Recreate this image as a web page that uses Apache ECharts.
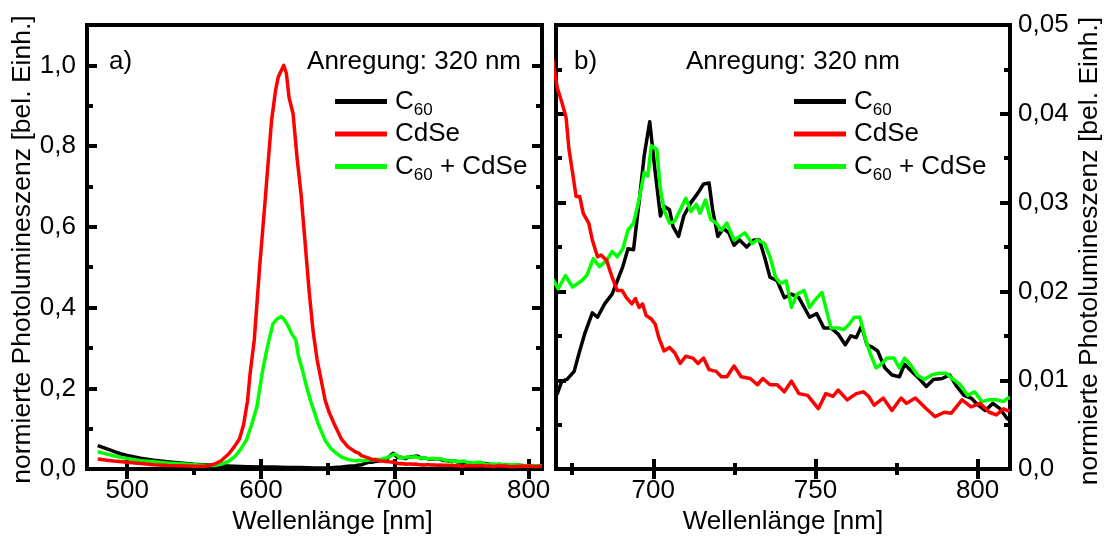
<!DOCTYPE html>
<html><head><meta charset="utf-8">
<script src="https://cdn.jsdelivr.net/npm/echarts@6/dist/echarts.min.js"></script>
<style>html,body{margin:0;padding:0;background:#fff}#c{width:1107px;height:540px}</style>
</head><body><div id="c"></div>
<script>
const FONT = '"Liberation Sans", Arial, sans-serif';

// ---- data (wavelength in nm, normalized PL) ----
const c60Nm = [478,485,490,495,500,510,520,530,540,550,560,570,580,590,600,610,620,630,640,650,655,660,665,
  670.4,671.8,673.4,675.6,677.3,679,681.2,682.8,685,687.3,688.9,690.6,692.2,693.9,695.6,697.2,698.9,700.6,702.2,703.3,705,706.1,707.8,709.4,711.6,713.8,715.5,717.2,718.3,719.9,721.6,723.3,724.9,726.6,728.8,731,732.7,734.3,736,738.2,740.4,742.6,744.9,748.2,750.4,752.6,754.8,757,759.2,760.9,762.6,764.2,765.9,767.6,769.2,771.4,773.6,775.9,777.5,779.7,782,784.2,786.4,789.1,791.4,793.6,795.8,798,800.2,802.4,804.7,806.9,809.1,810];
const c60Val = [0.058,0.050,0.044,0.038,0.034,0.027,0.022,0.018,0.015,0.012,0.010,0.008,0.007,0.006,0.005,0.005,0.004,0.004,0.003,0.003,0.004,0.005,0.007,
  0.0085,0.0099,0.0101,0.0110,0.0133,0.0154,0.0176,0.0171,0.0186,0.0197,0.0212,0.0228,0.0248,0.0247,0.0300,0.0353,0.0391,0.0334,0.0285,0.0296,0.0292,0.0273,0.0262,0.0285,0.0300,0.0311,0.0321,0.0322,0.0292,0.0262,0.0271,0.0266,0.0252,0.0258,0.0250,0.0258,0.0258,0.0239,0.0216,0.0212,0.0193,0.0197,0.0193,0.0171,0.0175,0.0159,0.0159,0.0152,0.0140,0.0150,0.0148,0.0161,0.0140,0.0137,0.0133,0.0114,0.0106,0.0104,0.0118,0.0110,0.0102,0.0093,0.0101,0.0102,0.0106,0.0093,0.0083,0.0080,0.0072,0.0066,0.0074,0.0068,0.0057,0.0055];

const cdseNm = [478,485,490,500,510,520,530,540,550,558,565,570,576,580,584,587,590,592,595,597,599,601,603,605,608,611,613,617,619,621,624,627,630,633,636,639,642,645,648,651,655,660,665,
  670.4,671.8,673.1,674,675.1,676.2,677.3,678.4,680.1,681.2,682.8,683.9,685.6,687.3,688.9,690.4,691.7,693.4,694.5,695.6,696.7,697.8,699.4,700.6,701.7,703.3,705,706.6,708.3,710,712.2,713.8,715.5,717.2,719.4,721,722.7,724.9,727.1,729.9,732.1,733.8,736,738.2,740.4,742.6,744.9,747.6,750.9,753.2,755.4,757,759.8,762.6,764.8,766.4,768.1,770.9,773.6,776.4,778.1,780.8,784.2,786.9,789.7,791.9,795.2,798,800.8,803.6,805.8,808,809.1,810];
const cdseVal = [0.025,0.022,0.020,0.017,0.014,0.011,0.009,0.008,0.007,0.007,0.012,0.020,0.038,0.055,0.075,0.110,0.170,0.240,0.320,0.410,0.500,0.580,0.660,0.745,0.866,0.940,0.972,1.000,0.980,0.920,0.880,0.770,0.680,0.560,0.440,0.340,0.270,0.220,0.170,0.140,0.110,0.075,0.055,
  0.0429,0.0413,0.0396,0.0360,0.0334,0.0307,0.0307,0.0288,0.0277,0.0258,0.0239,0.0241,0.0235,0.0216,0.0201,0.0201,0.0193,0.0186,0.0192,0.0182,0.0186,0.0173,0.0169,0.0163,0.0148,0.0133,0.0137,0.0131,0.0119,0.0127,0.0125,0.0119,0.0125,0.0112,0.0110,0.0104,0.0104,0.0116,0.0104,0.0102,0.0095,0.0102,0.0095,0.0095,0.0087,0.0099,0.0085,0.0083,0.0068,0.0085,0.0082,0.0089,0.0078,0.0085,0.0087,0.0082,0.0072,0.0080,0.0066,0.0080,0.0074,0.0080,0.0068,0.0059,0.0064,0.0063,0.0078,0.0070,0.0074,0.0064,0.0061,0.0068,0.0066,0.0066];

const mixNm = [478,485,490,495,500,510,520,530,540,550,560,565,570,576,581,585,589,593,597,601,604,606,609,612,615,617,619,621,623,626,628,631,634,637,640,643,648,652,656,660,665,
  670.7,672.9,675.1,677.9,679.5,681.5,683.4,685.6,687.3,688.9,690.6,692.2,693.9,695.6,697.2,698.3,699.4,701.1,702.2,703.3,705,706.6,708.3,710,711.6,713.3,714.4,716.1,717.7,719.4,721,722.7,724.9,726.6,728.2,730.5,732.1,734.3,736,737.7,739.3,741,742.6,744.3,746.5,748.2,749.8,752,754.8,757,758.7,760.4,762,763.7,765.3,767,768.7,770.3,772,774.2,775.9,777.5,779.2,781.4,783.6,785.8,788,790.3,792.5,794.7,796.9,799.1,801.3,803.6,805.8,808,809.3,810];
const mixVal = [0.043,0.037,0.033,0.029,0.026,0.021,0.018,0.015,0.013,0.011,0.009,0.009,0.012,0.020,0.033,0.050,0.071,0.110,0.155,0.240,0.290,0.320,0.360,0.372,0.378,0.372,0.362,0.350,0.335,0.320,0.280,0.245,0.205,0.170,0.140,0.110,0.071,0.052,0.040,0.030,0.024,
  0.0203,0.0218,0.0205,0.0212,0.0218,0.0237,0.0228,0.0235,0.0245,0.0239,0.0248,0.0269,0.0277,0.0303,0.0334,0.0330,0.0364,0.0360,0.0315,0.0292,0.0277,0.0279,0.0292,0.0305,0.0290,0.0298,0.0288,0.0303,0.0281,0.0277,0.0269,0.0277,0.0258,0.0262,0.0266,0.0254,0.0258,0.0254,0.0239,0.0216,0.0209,0.0212,0.0182,0.0197,0.0201,0.0182,0.0190,0.0199,0.0159,0.0159,0.0157,0.0163,0.0171,0.0171,0.0148,0.0129,0.0114,0.0118,0.0125,0.0125,0.0114,0.0125,0.0118,0.0106,0.0101,0.0106,0.0108,0.0108,0.0101,0.0095,0.0083,0.0087,0.0076,0.0078,0.0078,0.0076,0.0080,0.0080];

const seriesNames = ['C60', 'CdSe', 'C60 + CdSe'];
const annotation = 'Anregung: 320 nm';
const xTitle = 'Wellenlänge [nm]';
const yTitle = 'normierte Photolumineszenz [bel. Einh.]';

// ticks
const xMajorA = [500, 600, 700, 800], xMinorA = [550, 650, 750];
const yMajorA = [0, 0.2, 0.4, 0.6, 0.8, 1.0], yMinorA = [0.1, 0.3, 0.5, 0.7, 0.9];
const xMajorB = [700, 750, 800], xMinorB = [675, 725, 775];
const yMajorB = [0, 0.01, 0.02, 0.03, 0.04, 0.05], yMinorB = [0.005, 0.015, 0.025, 0.035, 0.045];
const rangeA = {xMin: 470, xMax: 810, yMin: 0, yMax: 1.1};
const rangeB = {xMin: 670, xMax: 810, yMin: 0, yMax: 0.05};

const pairs = (nm, v) => nm.map((x, i) => [x, v[i]]);
const colors = {'C60': '#000000', 'CdSe': '#ff0000', 'C60 + CdSe': '#00ff00'};

function axis(grid, pos, min, max, ticks, len, label) {
  const a = {
    type: 'value', gridIndex: grid, position: pos, min: min, max: max,
    axisLine: {show: false}, splitLine: {show: false},
    axisTick: {show: true, inside: true, length: len, customValues: ticks, lineStyle: {width: 4, color: '#000'}},
    axisLabel: {show: false}
  };
  if (label) {
    a.axisLabel = {show: true, customValues: ticks, formatter: label.fmt, fontSize: 26, fontFamily: FONT,
      color: '#000', margin: label.margin};
    if (label.name) {
      a.name = label.name; a.nameLocation = 'middle'; a.nameGap = label.gap;
      a.nameTextStyle = {fontSize: label.nameSize || 26, fontFamily: FONT, color: '#000', padding: label.pad || 0};
      if (label.rot !== undefined) a.nameRotate = label.rot;
    }
  }
  return a;
}
const fmtX = v => String(v);
const fmtYA = v => v.toFixed(1).replace('.', ',');
const fmtYB = v => v === 0 ? '0,0' : v.toFixed(2).replace('.', ',');
const MAJ = 10, MIN = 6;

const xAxes = [
  axis(0, 'bottom', rangeA.xMin, rangeA.xMax, xMajorA, MAJ, {fmt: fmtX, margin: 9, name: xTitle, gap: 35, pad: [0, 0, 0, 36]}),
  axis(0, 'top', rangeA.xMin, rangeA.xMax, xMajorA, MAJ),
  axis(0, 'bottom', rangeA.xMin, rangeA.xMax, xMinorA, MIN),
  axis(0, 'top', rangeA.xMin, rangeA.xMax, xMinorA, MIN),
  axis(1, 'bottom', rangeB.xMin, rangeB.xMax, xMajorB, MAJ, {fmt: fmtX, margin: 9, name: xTitle, gap: 35}),
  axis(1, 'top', rangeB.xMin, rangeB.xMax, xMajorB, MAJ),
  axis(1, 'bottom', rangeB.xMin, rangeB.xMax, xMinorB, MIN),
  axis(1, 'top', rangeB.xMin, rangeB.xMax, xMinorB, MIN)
];
const yAxes = [
  axis(0, 'left', rangeA.yMin, rangeA.yMax, yMajorA, MAJ, {fmt: fmtYA, margin: 11, name: yTitle, gap: 50, rot: 90, nameSize: 26.5, pad: [0, 5, 0, 0]}),
  axis(0, 'right', rangeA.yMin, rangeA.yMax, yMajorA, MAJ),
  axis(0, 'left', rangeA.yMin, rangeA.yMax, yMinorA, MIN),
  axis(0, 'right', rangeA.yMin, rangeA.yMax, yMinorA, MIN),
  axis(1, 'right', rangeB.yMin, rangeB.yMax, yMajorB, MAJ, {fmt: fmtYB, margin: 8, name: yTitle, gap: 66, rot: 90, nameSize: 26.5, pad: [0, 8, 0, 0]}),
  axis(1, 'left', rangeB.yMin, rangeB.yMax, yMajorB, MAJ),
  axis(1, 'right', rangeB.yMin, rangeB.yMax, yMinorB, MIN),
  axis(1, 'left', rangeB.yMin, rangeB.yMax, yMinorB, MIN)
];

const dataByName = {'C60': pairs(c60Nm, c60Val), 'CdSe': pairs(cdseNm, cdseVal), 'C60 + CdSe': pairs(mixNm, mixVal)};
const drawOrder = ['C60', 'C60 + CdSe', 'CdSe'];
const series = [];
[0, 4].forEach(idx => {
  drawOrder.forEach(n => series.push({
    type: 'line', name: n, xAxisIndex: idx, yAxisIndex: idx, data: dataByName[n],
    showSymbol: false, symbol: 'none', clip: true,
    lineStyle: {color: colors[n], width: 3.5, join: 'round'}, itemStyle: {color: colors[n]}
  }));
});

// subscript: token padding-top pushes the smaller glyphs below the main baseline
const rich = {
  t: {fontSize: 26, fontFamily: FONT, color: '#000', lineHeight: 28},
  s: {fontSize: 17, fontFamily: FONT, color: '#000', lineHeight: 17, padding: [18, 0, 0, 0]}
};
const legendFmt = n => n === 'C60' ? '{t|C}{s|60}' : (n === 'C60 + CdSe' ? '{t|C}{s|60}{t| + CdSe}' : '{t|' + n + '}');
function legend(left) {
  return {left: left, top: 84, orient: 'vertical', icon: 'rect', itemWidth: 52, itemHeight: 5, itemGap: 2,
    padding: 0, selectedMode: false, data: seriesNames, formatter: legendFmt,
    textStyle: {rich: rich, fontSize: 26, fontFamily: FONT, color: '#000', padding: [0, 0, 0, 3]}};
}
function txt(x, y, s, align) {
  return {type: 'text', x: x, y: y, style: {text: s, fontSize: 26, fontFamily: FONT, fill: '#000',
    align: align || 'left', verticalAlign: 'middle', textAlign: align || 'left', textVerticalAlign: 'middle'}};
}

const chart = echarts.init(document.getElementById('c'), null, {renderer: 'canvas'});
chart.setOption({
  animation: false,
  backgroundColor: '#fff',
  grid: [
    {left: 87, top: 25, width: 455, height: 453, show: true, borderWidth: 4, borderColor: '#000', backgroundColor: 'transparent'},
    {left: 556, top: 25, width: 454, height: 453, show: true, borderWidth: 4, borderColor: '#000', backgroundColor: 'transparent'}
  ],
  xAxis: xAxes,
  yAxis: yAxes,
  legend: [legend(335), legend(794)],
  graphic: [
    txt(109, 62, 'a)'),
    txt(521, 62, annotation, 'right'),
    txt(574, 62, 'b)'),
    txt(686, 62, annotation)
  ],
  series: series
});
</script></body></html>
